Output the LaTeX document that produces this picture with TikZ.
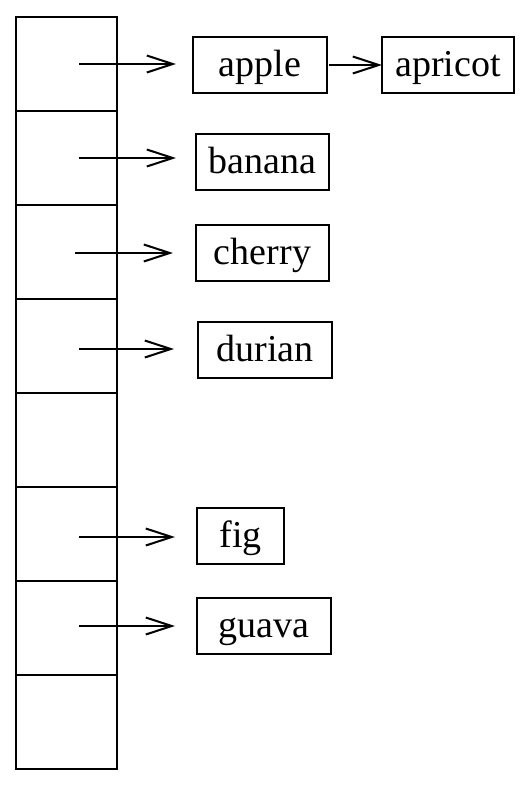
\documentclass[tikz,border=0pt]{standalone}
\usepackage{fontspec}
\setmainfont{Liberation Serif}
\usetikzlibrary{arrows.meta}
\begin{document}
\begin{tikzpicture}[x=1pt,y=-1pt,
  ln/.style={line width=2pt},
  cell/.style={ln,draw,minimum width=101pt,minimum height=94pt,inner sep=0pt,outer sep=0pt},
  item/.style={ln,draw,minimum height=56pt,inner sep=0pt,outer sep=0pt,
    font=\fontsize{38}{44}\selectfont,text height=27pt,text depth=4pt},
  link/.style={ln,-{Straight Barb[length=26pt,width=17pt,line width=2pt]}}]
\useasboundingbox (0,0) rectangle (532,790);
% column of cells
\foreach \i in {1,...,8}{
  \node[cell] (c\i) at (66.5,{17+94*(\i-0.5)}) {};
}
% items
\node[item,minimum width=134pt] (apple)   at (260,65)    {apple};
\node[item,minimum width=132pt] (apricot) at (448,65)    {apricot};
\node[item,minimum width=133pt] (banana)  at (262.5,162) {banana};
\node[item,minimum width=133pt] (cherry)  at (262.5,253) {cherry};
\node[item,minimum width=134pt] (durian)  at (265,349.5) {durian};
\node[item,minimum width=87pt]  (fig)     at (240.5,535.5) {fig};
\node[item,minimum width=134pt] (guava)   at (264,626)   {guava};
% arrow starts
\coordinate (s1) at (79,64);
\coordinate (s2) at (79,158);
\coordinate (s3) at (75,253);
\coordinate (s4) at (79,349);
\coordinate (s6) at (79,537);
\coordinate (s7) at (79,626);
\draw[link,shorten >=17pt] (s1) -- (apple.west |- s1);
\draw[link,shorten >=20pt] (s2) -- (banana.west |- s2);
\draw[link,shorten >=23pt] (s3) -- (cherry.west |- s3);
\draw[link,shorten >=24pt] (s4) -- (durian.west |- s4);
\draw[link,shorten >=22pt] (s6) -- (fig.west |- s6);
\draw[link,shorten >=22pt] (s7) -- (guava.west |- s7);
\draw[link,shorten <=2pt] (apple.east) -- (apricot.west);
\end{tikzpicture}
\end{document}
